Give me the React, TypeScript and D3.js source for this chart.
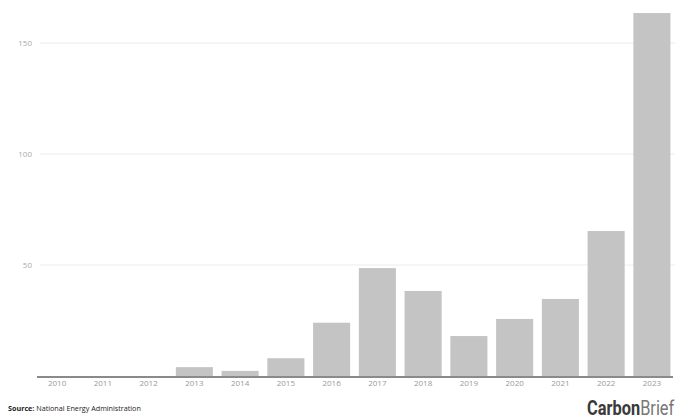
import React from "react";
import * as d3 from "d3";

const years = ["2010","2011","2012","2013","2014","2015","2016","2017","2018","2019","2020","2021","2022","2023"];
const values = [0, 0, 0, 4, 2.3, 8, 24, 48.6, 38.3, 18, 25.7, 34.7, 65.3, 163.5];
const yTicks = [50, 100, 150];

const W = 683, H = 419;
const x0 = 34, x1 = 675, yBase = 376, yTop = 43;

export default function App() {
  const x = d3.scaleBand<string>().domain(years).range([x0, x1]).paddingInner(0.19).paddingOuter(0.1);
  const y = d3.scaleLinear().domain([0, 150]).range([yBase, yTop]);
  const font = "'Open Sans', 'Noto Sans', sans-serif";
  return (
    <svg width={W} height={H} style={{ position: "absolute", left: 0, top: 0, background: "#fff" }}>
      {yTicks.map(t => (
        <g key={t}>
          <line x1={40} x2={x1} y1={y(t)} y2={y(t)} stroke="#ececec" strokeWidth={1} />
          <text x={32} y={y(t)} dy="0.35em" textAnchor="end" fontSize={8} fill="#aaa" fontFamily={font}>{t}</text>
        </g>
      ))}
      {years.map((yr, i) => (
        <rect key={yr} x={x(yr)} width={x.bandwidth()} y={y(values[i])} height={yBase - y(values[i])} fill="#c4c4c4" />
      ))}
      <line x1={37} x2={x1 - 2} y1={yBase + 1} y2={yBase + 1} stroke="#8a8a8a" strokeWidth={2} />
      {years.map(yr => (
        <text key={yr} x={(x(yr) as number) + x.bandwidth() / 2} y={386} textAnchor="middle" fontSize={8} fill="#999" fontFamily={font}>{yr}</text>
      ))}
      <text x={8} y={411} fontSize={7.2} fill="#222" fontFamily={font}>
        <tspan fontWeight="bold">Source:</tspan> National Energy Administration
      </text>
      <g transform="translate(587,415) scale(0.82,1)">
        <text x={0} y={0} fontSize={20} fontFamily="Roboto, 'Liberation Sans', sans-serif">
          <tspan fontWeight="bold" fill="#3a3a3a">Carbon</tspan><tspan fill="#777">Brief</tspan>
        </text>
      </g>
    </svg>
  );
}
